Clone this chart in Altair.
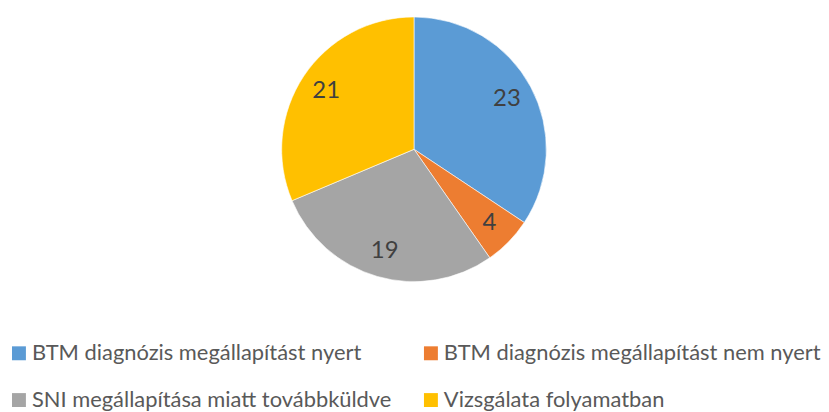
import altair as alt
import pandas as pd

categories = [
    "BTM diagnózis megállapítást nyert",
    "BTM diagnózis megállapítást nem nyert",
    "SNI megállapítása miatt továbbküldve",
    "Vizsgálata folyamatban",
]
values = [23, 4, 19, 21]
colors = ["#5B9BD5", "#ED7D31", "#A5A5A5", "#FFC000"]

# legend is filled column by column: put the entries in that order
legend_order = [0, 2, 1, 3]
legend_domain = [categories[i] for i in legend_order]
legend_range = [colors[i] for i in legend_order]

df = pd.DataFrame({"cat": categories, "val": values, "idx": list(range(len(values)))})

base = alt.Chart(df).encode(
    theta=alt.Theta("val:Q", stack=True),
    order=alt.Order("idx:Q"),
)

pie = base.mark_arc(outerRadius=133, stroke="white", strokeWidth=0.6).encode(
    color=alt.Color(
        "cat:N",
        scale=alt.Scale(domain=legend_domain, range=legend_range),
        legend=alt.Legend(
            title=None,
            orient="none",
            legendX=-2,
            legendY=335,
            padding=0,
            columns=2,
            symbolType="square",
            symbolSize=196,
            symbolStrokeWidth=0,
            labelFont="Lato",
            labelFontSize=22,
            labelColor="#595959",
            labelOffset=2,
            rowPadding=25,
            columnPadding=28,
            labelLimit=500,
        ),
    )
)

labels = base.mark_text(radius=106, font="Lato", fontSize=24, color="#404040").encode(
    text="val:Q"
)

chart = (
    (pie + labels)
    .properties(width=812, height=282, padding=0)
    .configure_view(stroke=None)
)

chart.save("out.html", embed_options={"renderer": "svg", "actions": False})
